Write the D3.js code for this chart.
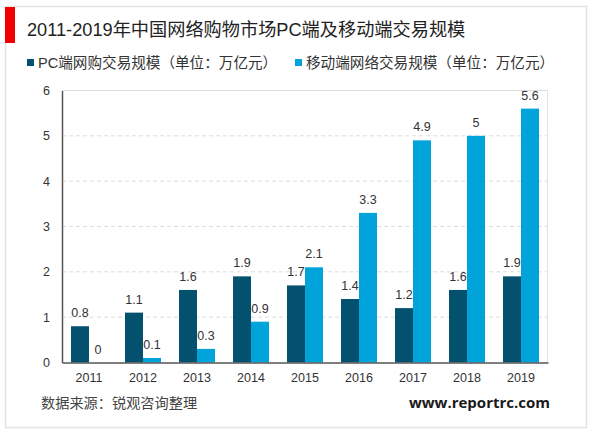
<!DOCTYPE html>
<html>
<head>
<meta charset="utf-8">
<script src="https://cdn.jsdelivr.net/npm/d3@7/dist/d3.min.js"></script>
<style>
  html, body { margin: 0; padding: 0; background: #fff; }
  svg { display: block; }
  text { font-family: "Liberation Sans", "Noto Sans CJK SC", sans-serif; }
</style>
</head>
<body>
<svg id="chart" width="600" height="433"></svg>
<script>
const years = ["2011", "2012", "2013", "2014", "2015", "2016", "2017", "2018", "2019"];
const pcValues = [0.8, 1.1, 1.6, 1.9, 1.7, 1.4, 1.2, 1.6, 1.9];
const mobileValues = [0, 0.1, 0.3, 0.9, 2.1, 3.3, 4.9, 5, 5.6];
const yTicks = [0, 1, 2, 3, 4, 5, 6];

const titleText = "2011-2019年中国网络购物市场PC端及移动端交易规模";
const pcLabel = "PC端网购交易规模（单位：万亿元）";
const mobileLabel = "移动端网络交易规模（单位：万亿元）";
const sourceText = "数据来源：锐观咨询整理";
const siteText = "www.reportrc.com";

const darkBlue = "#04506f";
const lightBlue = "#00a3da";

const svg = d3.select("#chart");

// card and red marker
svg.append("rect").attr("x", 5.5).attr("y", 6.5).attr("width", 581).attr("height", 421)
    .attr("fill", "#fff").attr("stroke", "#e4e4e4").attr("stroke-width", 1.5);
svg.append("rect").attr("x", 5).attr("y", 7).attr("width", 10).attr("height", 36).attr("fill", "#f00000");

svg.append("text").attr("x", 27).attr("y", 36).attr("font-size", 18.2).attr("fill", "#222").text(titleText);

// legend
svg.append("rect").attr("x", 27).attr("y", 59).attr("width", 7).attr("height", 7).attr("fill", darkBlue);
svg.append("text").attr("x", 38).attr("y", 68).attr("font-size", 14.6).attr("fill", "#333").text(pcLabel);
svg.append("rect").attr("x", 295).attr("y", 59).attr("width", 7).attr("height", 7).attr("fill", lightBlue);
svg.append("text").attr("x", 306).attr("y", 68).attr("font-size", 14.6).attr("fill", "#333").text(mobileLabel);

const x = d3.scaleBand().domain(years).range([62, 548]).paddingInner(1 / 3).paddingOuter(1 / 6);
const y = d3.scaleLinear().domain([0, 6]).range([362.5, 90.5]);

// dashed gridlines
svg.append("g").selectAll("line").data(yTicks.slice(1)).join("line")
    .attr("x1", 62).attr("x2", 547)
    .attr("y1", d => y(d)).attr("y2", d => y(d))
    .attr("stroke", "#dcdcdc").attr("stroke-width", 1)
    .attr("stroke-dasharray", d => d === 6 ? null : "4 3");
svg.append("line").attr("x1", 547.5).attr("x2", 547.5).attr("y1", y(6)).attr("y2", y(0)).attr("stroke", "#e2e2e2");

const series = [
    { name: "pc", values: pcValues, color: darkBlue, offset: 0 },
    { name: "mobile", values: mobileValues, color: lightBlue, offset: 1 }
];

series.forEach(s => {
    const barW = x.bandwidth() / 2;
    svg.append("g").selectAll("rect").data(s.values).join("rect")
        .attr("x", (d, i) => x(years[i]) + s.offset * barW)
        .attr("y", d => y(d))
        .attr("width", barW)
        .attr("height", d => y(0) - y(d))
        .attr("fill", s.color);
    svg.append("g").selectAll("text").data(s.values).join("text")
        .attr("x", (d, i) => x(years[i]) + s.offset * barW + barW / 2)
        .attr("y", d => y(d) - 9)
        .attr("text-anchor", "middle")
        .attr("font-size", 12.5)
        .attr("fill", "#333")
        .text(d => d);
});

// axes
const xAxis = svg.append("g").attr("transform", `translate(0,${y(0)})`)
    .call(d3.axisBottom(x).tickSize(0).tickPadding(11));
xAxis.select(".domain").attr("stroke", "#555").attr("stroke-width", 1.5);
xAxis.selectAll("text").attr("font-size", 12.5).attr("fill", "#333");

const yAxis = svg.append("g").attr("transform", "translate(62,0)")
    .call(d3.axisLeft(y).tickValues(yTicks).tickFormat(d3.format("d")).tickSize(0).tickPadding(12));
yAxis.select(".domain").attr("stroke", "#555").attr("stroke-width", 1.5);
yAxis.selectAll("text").attr("font-size", 12.5).attr("fill", "#333");

svg.append("text").attr("x", 41).attr("y", 408).attr("font-size", 14.2).attr("fill", "#444").text(sourceText);
svg.append("text").attr("x", 550).attr("y", 408).attr("text-anchor", "end")
    .style("font-family", "'Open Sans', 'DejaVu Sans', sans-serif")
    .attr("font-size", 15).attr("font-weight", "bold").attr("fill", "#1a1a1a").text(siteText);
</script>
</body>
</html>
